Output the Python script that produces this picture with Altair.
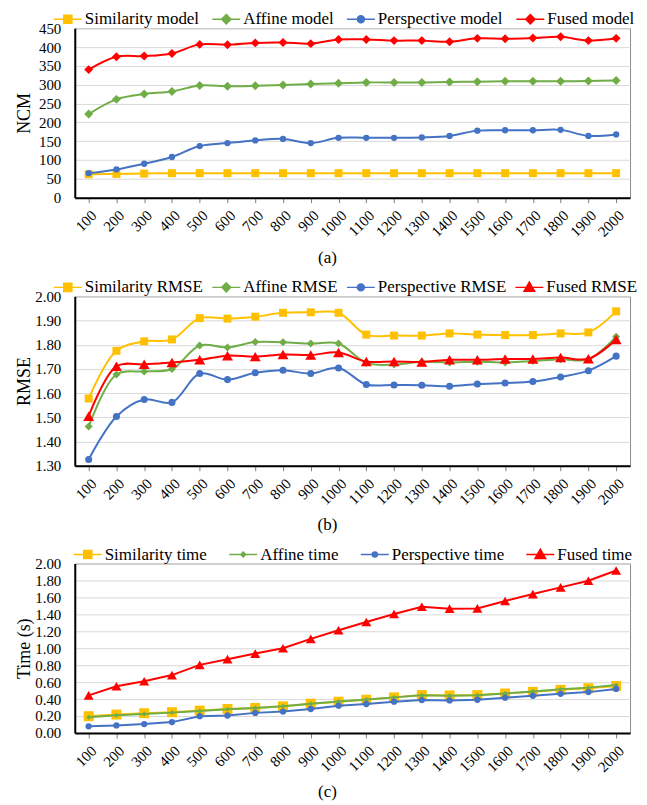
import altair as alt
import pandas as pd

N = [100, 200, 300, 400, 500, 600, 700, 800, 900, 1000,
     1100, 1200, 1300, 1400, 1500, 1600, 1700, 1800, 1900, 2000]
N_LABELS = [str(n) for n in N]

# (a) NCM
A_SERIES = ["Similarity model", "Affine model", "Perspective model", "Fused model"]
A_SIM = [62, 63, 64, 65, 65, 65, 65, 65, 65, 65, 65, 65, 65, 65, 65, 65, 65, 65, 65, 65]
A_AFF = [222, 261, 275, 282, 298, 296, 297, 299, 302, 304, 306, 306, 306, 307, 308, 309, 309, 309, 310, 311]
A_PER = [65, 75, 90, 108, 137, 145, 152, 156, 145, 159, 159, 159, 160, 164, 178, 179, 179, 180, 164, 168]
A_FUS = [340, 374, 376, 383, 407, 406, 411, 412, 409, 420, 420, 417, 417, 414, 423, 422, 424, 427, 417, 423]

# (b) RMSE
B_SERIES = ["Similarity RMSE", "Affine RMSE", "Perspective RMSE", "Fused RMSE"]
B_SIM = [1.578, 1.775, 1.814, 1.822, 1.910, 1.908, 1.916, 1.932, 1.934, 1.932,
         1.842, 1.838, 1.838, 1.847, 1.842, 1.840, 1.840, 1.847, 1.851, 1.938]
B_AFF = [1.462, 1.677, 1.690, 1.700, 1.797, 1.789, 1.811, 1.810, 1.805, 1.805,
         1.725, 1.718, 1.730, 1.727, 1.730, 1.727, 1.733, 1.740, 1.740, 1.833]
B_PER = [1.326, 1.504, 1.574, 1.562, 1.681, 1.656, 1.684, 1.695, 1.681, 1.704,
         1.636, 1.634, 1.633, 1.629, 1.638, 1.642, 1.648, 1.667, 1.693, 1.753]
B_FUS = [1.505, 1.711, 1.719, 1.727, 1.738, 1.755, 1.751, 1.760, 1.758, 1.768,
         1.731, 1.731, 1.729, 1.738, 1.738, 1.741, 1.741, 1.747, 1.742, 1.822]

# (c) Time
C_SERIES = ["Similarity time", "Affine time", "Perspective time", "Fused time"]
C_SIM = [0.198, 0.217, 0.233, 0.245, 0.264, 0.283, 0.295, 0.314, 0.345, 0.369,
         0.392, 0.420, 0.447, 0.443, 0.447, 0.466, 0.485, 0.509, 0.528, 0.555]
C_AFF = [0.186, 0.210, 0.225, 0.240, 0.260, 0.280, 0.295, 0.315, 0.345, 0.370,
         0.395, 0.420, 0.445, 0.440, 0.445, 0.465, 0.490, 0.515, 0.535, 0.565]
C_PER = [0.078, 0.089, 0.105, 0.128, 0.198, 0.206, 0.237, 0.252, 0.283, 0.322,
         0.342, 0.369, 0.388, 0.384, 0.392, 0.416, 0.439, 0.462, 0.482, 0.520]
C_FUS = [0.443, 0.551, 0.610, 0.683, 0.804, 0.871, 0.937, 1.000, 1.110, 1.212,
         1.310, 1.404, 1.490, 1.467, 1.470, 1.557, 1.639, 1.718, 1.796, 1.918]

COLORS = ["#FFC000", "#70AD47", "#4472C4", "#FF0000"]

FONT = "Liberation Serif"
W, H = 557, 170


def sq(h):
    return f"M-1,0H1M{-h},{-h}H{h}V{h}H{-h}Z"


def dia(h):
    return f"M-1,0H1M0,{-h}L{h},0L0,{h}L{-h},0Z"


def circ(r):
    return f"M-1,0H1M{-r},0A{r},{r},0,1,0,{r},0A{r},{r},0,1,0,{-r},0Z"


def tri(h):
    return f"M-1,0H1M0,{-h}L{h},{h * 0.75}L{-h},{h * 0.75}Z"


def make_df(series, lists):
    rows = []
    for s, vals in zip(series, lists):
        for n, v in zip(N_LABELS, vals):
            rows.append({"n": n, "series": s, "value": v})
    return pd.DataFrame(rows)


def panel(series, lists, shapes, sizes, legend_paths, ydomain, yticks, yfmt,
          ytitle, caption, cap_y, interp, legend_x, col_pad):
    df = make_df(series, lists)
    x = alt.X("n:O", sort=N_LABELS,
              scale=alt.Scale(type="point", padding=0.5, domain=N_LABELS),
              axis=alt.Axis(title=caption, labelAngle=-45, labelFontSize=15,
                            labelPadding=5, tickSize=5, tickColor="#7f7f7f",
                            domainColor="black", domainWidth=2, grid=False,
                            titleX=253, titleY=cap_y, titleBaseline="top",
                            titleAlign="center", titleFontSize=17,
                            titleFontWeight="normal"))
    y = alt.Y("value:Q", scale=alt.Scale(domain=ydomain, nice=False, zero=False),
              axis=alt.Axis(title=ytitle, values=yticks, format=yfmt, tickSize=0,
                            labelPadding=14, labelFontSize=15,
                            domainColor="black", domainWidth=2,
                            gridColor="#d9d9d9", gridWidth=1,
                            titleX=-50, titleAlign="center", titleBaseline="middle",
                            titleFontSize=18, titleFontWeight="normal"))
    base = alt.Chart(df).encode(x=x, y=y)
    layers = []
    for i, s in enumerate(series):
        flt = alt.FieldEqualPredicate(field="series", equal=s)
        layers.append(base.transform_filter(flt).mark_line(
            color=COLORS[i], strokeWidth=2, interpolate=interp))
        layers.append(base.transform_filter(flt).mark_point(
            shape=shapes[i], filled=True, color=COLORS[i], size=sizes[i], opacity=1))
    leg = alt.Legend(title=None, orient="none", legendX=legend_x, legendY=-24,
                     direction="horizontal", columns=4, columnPadding=col_pad,
                     symbolOpacity=1)
    legend_layer = base.mark_point(filled=True, opacity=0).encode(
        color=alt.Color("series:N", scale=alt.Scale(domain=series, range=COLORS), legend=leg),
        stroke=alt.Stroke("series:N", scale=alt.Scale(domain=series, range=COLORS), legend=leg),
        shape=alt.Shape("series:N", scale=alt.Scale(domain=series, range=legend_paths), legend=leg),
    )
    layers.append(legend_layer)
    return alt.layer(*layers).properties(width=W, height=H)


pa = panel(A_SERIES, [A_SIM, A_AFF, A_PER, A_FUS],
           ["square", "diamond", "circle", "diamond"], [64, 81, 40, 81],
           [sq(0.29), dia(0.33), circ(0.25), dia(0.33)],
           [0, 450], list(range(0, 451, 50)), "d", "NCM", "(a)", 52,
           "catmull-rom", -22, 10)

pb = panel(B_SERIES, [B_SIM, B_AFF, B_PER, B_FUS],
           ["square", "diamond", "circle", "triangle-up"], [64, 64, 50, 121],
           [sq(0.29), dia(0.32), circ(0.25), tri(0.38)],
           [1.3, 2.0], [1.3, 1.4, 1.5, 1.6, 1.7, 1.8, 1.9, 2.0], ".2f", "RMSE", "(b)", 51,
           "catmull-rom", -22, 6)

pc = panel(C_SERIES, [C_SIM, C_AFF, C_PER, C_FUS],
           ["square", "diamond", "circle", "triangle-up"], [100, 25, 40, 100],
           [sq(0.29), dia(0.18), circ(0.18), tri(0.38)],
           [0, 2.0], [0, 0.2, 0.4, 0.6, 0.8, 1.0, 1.2, 1.4, 1.6, 1.8, 2.0], ".2f",
           "Time (s)", "(c)", 51, "linear", -2, 19)

chart = alt.vconcat(pa, pb, pc, spacing=5).resolve_scale(
    color="independent", stroke="independent", shape="independent"
).properties(
    padding={"left": 7, "top": -6, "right": 0, "bottom": 0}
).configure(font=FONT).configure_view(
    stroke="#8c8c8c", strokeWidth=1
).configure_axis(
    labelColor="black", titleColor="black", labelFont=FONT, titleFont=FONT
).configure_legend(
    labelFont=FONT, labelFontSize=17, labelColor="black", symbolSize=784,
    symbolStrokeWidth=1.5, labelOffset=2, padding=0, symbolFillColor="#000000"
)

chart.save("out.html", embed_options={"renderer": "svg", "actions": False})
